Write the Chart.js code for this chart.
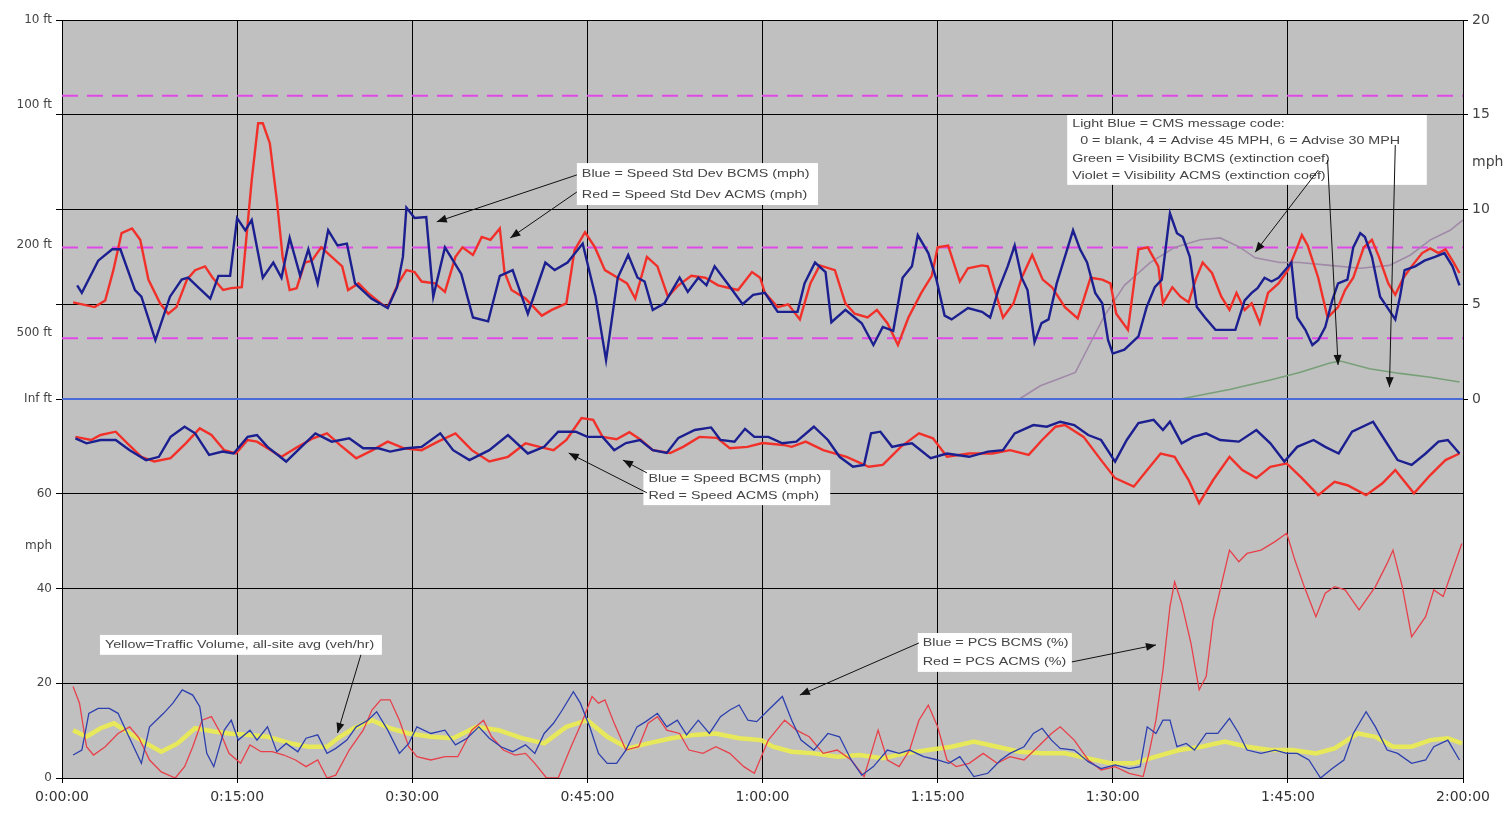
<!DOCTYPE html>
<html>
<head>
<meta charset="utf-8">
<script src="https://cdn.jsdelivr.net/npm/chart.js@4.4.1/dist/chart.umd.min.js"></script>
<style>
  html, body { margin: 0; padding: 0; background: #fff; }
  canvas { display: block; }
</style>
</head>
<body>
<canvas id="trafficChart" width="1507" height="813"></canvas>
<script>
// x values are minutes from the start of the run
const timeTicks = [0, 15, 30, 45, 60, 75, 90, 105, 120];
const timeLabels = ['0:00:00', '0:15:00', '0:30:00', '0:45:00', '1:00:00', '1:15:00', '1:30:00', '1:45:00', '2:00:00'];

// left axis: mph at the bottom, visibility text labels on top
const leftTickVals = [0, 20, 40, 49, 60, 80, 94, 100, 112.5, 120, 140, 142, 160];
const leftTickText = ['0', '20', '40', 'mph', '60', 'Inf ft', '500 ft', '', '200 ft', '', '', '100 ft', '10 ft'];
// right axis: std dev (mph) / extinction coef
const rightTickVals = [0, 5, 10, 12.5, 15, 20];
const rightTickText = ['0', '5', '10', 'mph', '15', '20'];

// visibility limits as extinction coef (100 ft, 200 ft, 500 ft)
const visLimits = [16, 8, 3.2];

// [minute, value] pairs
const sdBcms = [[1.3,6.0],[1.7,5.6],[3.1,7.3],[4.3,7.9],[5.0,7.9],[6.25,5.75],[6.8,5.4],[8.0,3.1],[9.25,5.4],[10.25,6.3],[10.8,6.4],[11.65,5.9],[12.7,5.3],[13.4,6.5],[14.4,6.5],[15.0,9.55],[15.7,8.9],[16.25,9.45],[17.2,6.4],[18.1,7.2],[18.8,6.4],[19.5,8.5],[20.4,6.5],[21.1,7.9],[21.9,6.1],[22.8,8.9],[23.6,8.1],[24.4,8.2],[25.1,6.1],[26.5,5.3],[27.9,4.8],[28.7,5.9],[29.2,7.5],[29.5,10.1],[30.2,9.55],[31.2,9.6],[31.8,5.4],[32.8,8.0],[34.2,6.6],[35.2,4.3],[36.5,4.1],[37.5,6.5],[38.6,6.8],[39.9,4.5],[41.4,7.2],[42.2,6.8],[43.3,7.2],[44.6,8.2],[45.7,5.4],[46.6,2.05],[47.6,6.4],[48.5,7.6],[49.3,6.4],[49.9,6.2],[50.6,4.7],[51.6,5.05],[52.9,6.4],[53.6,5.65],[54.5,6.4],[55.2,6.0],[55.9,7.0],[57.0,6.1],[58.3,5.0],[59.2,5.5],[60.2,5.6],[61.3,4.6],[63.0,4.6],[63.6,6.1],[64.5,7.2],[65.4,6.7],[65.9,4.05],[67.1,4.7],[68.5,4.0],[69.5,2.85],[70.3,3.8],[71.2,3.6],[72.0,6.4],[72.8,7.0],[73.3,8.65],[74.2,7.7],[74.9,6.3],[75.6,4.4],[76.2,4.2],[77.6,4.8],[78.8,4.6],[79.5,4.3],[80.2,5.75],[81.0,7.0],[81.6,8.1],[82.2,6.4],[82.7,5.75],[83.3,3.0],[83.9,4.0],[84.5,4.2],[85.2,6.1],[85.9,7.5],[86.6,8.9],[87.2,7.9],[87.8,7.2],[88.5,5.6],[89.1,5.05],[89.6,3.1],[90.0,2.4],[91.0,2.6],[92.2,3.3],[92.9,4.85],[93.6,5.9],[94.2,6.3],[94.9,9.8],[95.5,8.75],[96.0,8.55],[96.6,7.5],[97.2,4.85],[97.9,4.3],[98.8,3.65],[100.5,3.65],[101.3,5.2],[101.9,5.6],[102.4,5.85],[103.0,6.4],[103.6,6.2],[104.2,6.4],[104.9,6.9],[105.3,7.2],[105.8,4.3],[106.5,3.65],[107.1,2.85],[107.6,3.1],[108.2,3.8],[108.8,5.2],[109.3,6.1],[110.1,6.3],[110.6,8.0],[111.2,8.75],[111.6,8.55],[112.2,7.5],[112.9,5.4],[113.5,4.85],[114.2,4.2],[114.6,5.4],[115.0,6.8],[115.9,7.0],[116.7,7.3],[117.6,7.5],[118.4,7.7],[119.1,7.0],[119.7,6.0]];

const sdAcms = [[0.95,5.1],[2.8,4.85],[3.7,5.2],[4.4,6.8],[5.1,8.75],[6.0,9.0],[6.7,8.4],[7.4,6.3],[8.4,5.05],[9.1,4.5],[9.8,4.85],[10.7,6.3],[11.4,6.8],[12.25,7.0],[12.9,6.4],[13.8,5.75],[14.5,5.85],[15.4,5.9],[15.8,8.55],[16.25,11.55],[16.8,14.55],[17.2,14.55],[17.8,13.5],[18.4,10.5],[18.9,7.5],[19.5,5.75],[20.1,5.85],[20.8,7.2],[21.4,7.3],[22.2,8.0],[23.1,7.5],[24.0,7.0],[24.5,5.75],[25.4,6.1],[26.2,5.6],[27.4,5.0],[27.9,4.85],[28.8,6.1],[29.5,6.8],[30.2,6.7],[30.8,6.2],[31.95,6.1],[32.8,5.65],[33.7,7.5],[34.3,8.0],[35.2,7.6],[35.95,8.55],[36.7,8.4],[37.5,9.0],[37.9,6.7],[38.5,5.75],[39.7,5.3],[41.1,4.4],[41.95,4.7],[43.2,5.05],[43.9,7.85],[44.8,8.8],[45.65,8.0],[46.5,6.8],[47.6,6.4],[48.4,6.1],[49.1,5.3],[50.1,7.5],[51.0,7.0],[51.9,5.4],[52.8,6.0],[53.9,6.5],[55.1,6.4],[56.2,6.0],[57.9,5.75],[59.1,6.7],[59.8,6.4],[60.2,5.6],[61.3,4.85],[62.2,5.0],[63.2,4.2],[64.1,6.1],[64.9,7.05],[66.2,6.8],[67.1,5.05],[67.9,4.5],[69.0,4.3],[69.8,4.7],[70.7,4.0],[71.6,2.85],[72.5,4.3],[73.6,5.6],[74.5,6.5],[75.0,8.0],[75.9,8.1],[76.9,6.2],[77.6,6.9],[78.8,7.05],[79.3,7.0],[79.9,5.75],[80.6,4.3],[81.5,5.05],[82.2,6.4],[83.1,7.6],[84.0,6.3],[84.8,5.9],[85.9,4.85],[87.0,4.25],[88.1,6.4],[89.1,6.3],[89.8,6.1],[90.3,4.5],[91.3,3.65],[92.2,7.9],[93.0,8.0],[93.9,7.0],[94.3,5.05],[95.1,5.9],[95.8,5.4],[96.5,5.1],[97.1,6.3],[97.7,7.2],[98.5,6.65],[99.3,5.4],[100.0,4.7],[100.6,5.6],[101.3,4.7],[101.9,5.05],[102.6,4.0],[103.3,5.6],[104.2,6.1],[105.0,6.8],[105.8,8.0],[106.2,8.65],[106.7,8.1],[107.6,6.4],[108.4,4.3],[109.3,4.85],[109.9,5.75],[110.6,6.4],[111.5,8.0],[112.2,8.4],[112.8,7.5],[113.6,6.1],[114.2,5.5],[114.9,6.4],[115.6,7.0],[116.5,7.7],[117.2,7.95],[117.9,7.7],[118.5,7.9],[119.2,7.2],[119.7,6.65]];

const speedBcms = [[1.15,71.7],[2.1,70.65],[3.3,71.35],[4.6,71.35],[5.8,69.2],[7.2,67.1],[8.3,67.8],[9.3,72.0],[10.5,74.15],[11.4,72.75],[12.6,68.2],[13.75,68.9],[14.7,68.5],[15.9,72.0],[16.7,72.4],[17.6,69.9],[19.2,66.8],[20.5,69.9],[21.7,72.75],[23.1,71.0],[24.6,71.7],[25.8,69.6],[27.1,69.6],[28.1,68.9],[29.5,69.6],[30.8,69.9],[32.4,72.75],[33.5,69.2],[34.9,67.1],[36.6,69.2],[38.2,72.4],[39.9,68.5],[41.3,69.9],[42.5,73.1],[44.0,73.1],[45.0,72.0],[46.3,72.0],[47.3,69.2],[48.3,70.7],[49.5,71.35],[50.6,69.2],[51.8,68.6],[52.8,71.8],[54.2,73.45],[55.6,74.0],[56.4,71.35],[57.6,71.0],[58.5,73.7],[59.3,72.0],[60.5,72.0],[61.7,70.65],[62.9,71.0],[64.4,74.15],[65.6,71.35],[66.6,67.8],[67.75,65.7],[68.7,66.1],[69.3,72.75],[70.1,73.1],[71.1,69.9],[71.85,70.3],[72.8,70.65],[74.4,67.5],[75.8,68.5],[77.7,67.8],[79.3,68.9],[80.6,69.2],[81.6,72.75],[83.2,74.5],[84.35,74.15],[85.5,75.2],[86.7,74.5],[87.9,72.4],[89.0,71.35],[90.2,66.8],[91.2,71.35],[92.2,74.9],[93.5,75.6],[94.3,73.45],[94.9,75.2],[95.9,70.65],[96.9,72.0],[98.0,72.75],[99.2,71.35],[100.8,71.0],[102.3,73.45],[103.5,70.65],[104.7,66.8],[105.8,69.9],[107.2,71.35],[108.2,69.9],[109.35,68.5],[110.5,73.1],[112.3,75.2],[113.3,71.35],[114.4,67.1],[115.6,66.1],[116.8,68.5],[117.9,71.0],[118.7,71.35],[119.7,68.5]];

const speedAcms = [[1.15,72.0],[2.5,71.35],[3.3,72.4],[4.6,73.1],[5.6,70.65],[6.8,67.8],[7.9,66.8],[9.3,67.5],[10.6,70.65],[11.8,73.8],[12.8,72.4],[13.9,69.2],[14.9,68.5],[15.9,71.35],[16.7,71.0],[17.6,69.6],[18.8,67.8],[20.2,69.9],[21.5,71.7],[22.7,72.75],[23.8,70.3],[25.2,67.5],[26.6,69.2],[27.9,71.0],[29.3,69.6],[30.8,69.2],[32.2,71.0],[33.7,72.75],[35.1,69.2],[36.6,66.8],[38.2,67.8],[39.7,70.65],[40.9,69.9],[42.1,69.2],[43.2,71.35],[44.5,76.0],[45.5,75.6],[46.3,72.0],[47.5,71.5],[48.6,73.0],[49.6,71.35],[50.6,69.2],[52.1,68.6],[53.2,69.9],[54.6,72.0],[56.1,71.8],[57.2,69.6],[58.7,69.9],[60.0,70.7],[61.8,70.3],[62.5,69.9],[63.7,71.0],[65.2,69.2],[67.2,67.8],[69.1,65.7],[70.3,66.1],[71.85,69.9],[73.4,72.75],[74.6,71.7],[75.8,67.8],[77.7,68.5],[79.7,68.5],[81.2,69.2],[82.8,68.2],[83.95,71.35],[85.1,74.15],[85.9,74.5],[87.5,72.0],[89.0,67.1],[90.2,63.3],[91.8,61.5],[92.95,65.0],[94.1,68.5],[95.3,67.8],[96.5,62.9],[97.4,58.0],[98.6,62.9],[100.0,67.8],[101.1,65.0],[102.3,63.3],[103.5,65.7],[104.9,66.4],[106.2,63.3],[107.6,59.7],[109.0,62.5],[110.1,61.8],[111.7,59.7],[113.1,62.2],[114.2,65.0],[115.8,60.1],[117.2,63.95],[118.5,67.1],[119.7,68.5]];

const pcsBcms = [[0.95,4.85],[1.7,5.9],[2.3,13.65],[3.1,14.7],[4.05,14.7],[4.8,13.65],[5.6,9.4],[6.8,3.1],[7.5,10.8],[8.7,13.65],[9.5,15.8],[10.3,18.6],[11.2,17.5],[11.8,15.05],[12.4,5.2],[13.0,2.4],[13.9,10.1],[14.5,12.2],[15.1,8.0],[16.1,10.1],[16.7,8.0],[17.6,10.8],[18.4,5.55],[19.2,7.3],[20.2,5.55],[20.9,8.4],[21.9,9.1],[22.7,5.2],[23.45,6.25],[24.4,8.0],[25.2,10.8],[26.2,12.2],[26.95,14.0],[27.9,10.1],[28.9,5.2],[29.7,7.3],[30.4,10.8],[31.6,9.4],[32.8,10.1],[33.7,7.0],[34.7,8.4],[35.7,10.8],[36.6,8.4],[37.6,6.6],[38.6,5.55],[39.7,7.0],[40.5,5.2],[41.3,9.4],[42.1,11.55],[42.85,14.35],[43.8,18.2],[44.4,15.8],[45.2,10.8],[45.95,5.2],[46.7,3.1],[47.5,3.1],[48.3,5.9],[49.25,10.8],[50.0,11.9],[51.0,13.65],[51.8,10.8],[52.7,12.2],[53.5,9.1],[54.5,12.2],[55.45,9.4],[56.4,12.95],[57.2,14.35],[58.0,15.4],[58.75,12.2],[59.5,11.9],[60.5,14.35],[61.7,17.2],[62.5,12.2],[63.3,8.0],[64.4,5.9],[65.6,9.4],[66.6,8.7],[67.6,3.8],[68.5,0.6],[69.5,2.4],[70.7,5.9],[71.7,5.2],[72.6,5.9],[73.8,4.5],[75.0,3.8],[75.95,3.1],[76.9,4.5],[78.1,0.3],[79.3,1.0],[80.4,3.8],[81.2,5.2],[82.4,6.6],[83.2,9.4],[83.95,10.5],[84.75,8.0],[85.5,6.25],[86.7,5.9],[87.9,3.45],[89.0,2.0],[90.2,2.75],[91.4,2.0],[92.35,2.4],[92.95,10.8],[93.7,9.4],[94.3,12.2],[94.9,12.2],[95.5,6.6],[96.3,7.3],[97.0,5.9],[98.0,9.4],[99.0,9.4],[100.0,12.6],[100.8,9.4],[101.5,5.9],[102.7,5.2],[103.9,5.9],[104.9,5.2],[105.8,5.2],[106.8,3.8],[107.8,0],[108.8,2.0],[109.8,3.8],[110.6,9.4],[111.7,14.0],[112.5,10.8],[113.5,5.9],[114.4,5.2],[115.6,3.1],[116.8,3.8],[117.5,6.6],[118.7,8.0],[119.7,3.8]];

const pcsAcms = [[0.95,19.3],[1.5,15.8],[2.1,6.6],[2.7,4.85],[3.7,6.6],[4.8,9.4],[5.8,10.8],[6.6,8.4],[7.5,3.8],[8.5,1.3],[9.7,0],[10.5,2.4],[11.2,6.6],[12.0,12.2],[12.8,12.95],[13.6,9.4],[14.3,5.2],[15.3,3.1],[16.1,7.0],[17.05,5.55],[18.0,5.55],[19.0,4.85],[20.0,3.8],[20.9,2.4],[21.9,3.8],[22.7,0],[23.45,0.6],[24.6,5.9],[25.8,10.1],[26.55,14.35],[27.3,16.5],[28.1,16.5],[28.9,12.2],[29.7,6.6],[30.4,4.5],[31.6,3.8],[32.8,4.5],[33.9,4.5],[35.1,10.1],[36.1,12.2],[36.8,8.7],[37.8,5.9],[38.8,4.85],[39.7,5.2],[40.5,3.1],[41.5,0],[42.5,0],[43.6,6.6],[44.6,12.2],[45.4,17.2],[45.95,15.8],[46.5,16.5],[47.3,11.55],[48.3,5.9],[49.4,6.6],[50.2,11.55],[51.0,12.95],[51.8,10.1],[52.9,9.4],[53.7,5.9],[54.9,5.2],[56.0,6.6],[57.2,5.2],[58.4,2.4],[59.3,1.0],[60.5,8.0],[61.9,12.2],[62.9,10.1],[64.0,8.7],[65.2,5.2],[66.4,5.9],[67.6,3.8],[68.7,0.3],[69.9,10.1],[70.7,3.8],[71.7,2.4],[72.6,5.9],[73.4,12.2],[74.2,15.4],[75.0,10.8],[75.8,3.8],[76.6,2.4],[77.7,3.1],[78.9,5.2],[80.1,3.1],[81.2,4.5],[82.4,3.8],[83.6,6.6],[84.75,9.4],[85.5,10.8],[86.7,8.0],[87.9,3.8],[89.0,1.7],[90.2,2.4],[91.4,1.0],[92.6,0.3],[93.1,5.2],[93.7,12.2],[94.3,22.8],[94.9,36.2],[95.3,41.4],[95.9,36.9],[96.7,28.4],[97.4,18.6],[98.0,21.4],[98.6,33.35],[99.4,41.8],[100.0,48.1],[100.8,45.65],[101.5,47.4],[102.7,48.1],[103.9,49.9],[104.9,51.65],[105.6,46.0],[106.4,40.4],[107.4,34.05],[108.2,39.0],[109.0,40.4],[109.9,39.7],[111.1,35.5],[112.5,40.4],[113.5,45.3],[114.0,48.1],[114.8,40.4],[115.6,29.8],[116.8,34.05],[117.5,39.7],[118.3,38.3],[119.1,43.9],[119.9,49.5]];

const trafficVol = [[0.95,10.1],[2.1,8.7],[3.3,10.5],[4.45,11.55],[5.8,9.4],[7.2,7.3],[8.5,5.55],[9.9,7.3],[11.4,10.5],[13.0,9.8],[14.3,9.4],[16.1,9.1],[17.6,8.7],[19.6,7.3],[21.1,6.6],[22.7,6.6],[23.8,8.7],[25.0,10.5],[26.55,12.2],[28.1,10.5],[29.7,9.4],[31.6,8.7],[33.5,8.4],[35.5,10.8],[37.4,10.1],[39.4,8.4],[41.3,7.3],[43.2,10.8],[45.0,12.2],[46.7,8.7],[48.5,6.25],[50.2,7.3],[52.2,8.4],[54.1,9.1],[56.0,9.4],[58.0,8.4],[59.9,8.0],[60.9,6.6],[62.5,5.55],[64.4,5.2],[66.4,4.5],[68.3,4.85],[70.3,4.15],[72.2,5.2],[74.2,5.9],[76.2,6.6],[78.1,7.7],[80.1,6.6],[82.0,5.55],[83.95,5.2],[85.9,5.2],[87.9,4.15],[89.8,3.1],[91.8,3.1],[93.7,4.5],[95.7,5.9],[97.6,6.6],[99.6,7.7],[101.5,6.6],[103.5,5.9],[105.4,5.9],[107.4,5.2],[109.0,6.25],[111.0,9.4],[112.5,8.7],[114.0,6.6],[115.6,6.6],[117.2,8.0],[118.7,8.4],[119.9,7.3]];

const cmsCode = [[0,0],[30,0],[60,0],[90,0],[120,0]];

const visAcms = [[82,0],[83.8,0.7],[85.5,1.1],[86.8,1.4],[88,2.85],[89.3,4.4],[91,6.0],[93.2,7.2],[95.3,8.0],[97.5,8.4],[99.2,8.5],[100.9,8.0],[102.2,7.45],[104.3,7.2],[106,7.2],[108.6,7.05],[111.2,6.9],[113.7,7.05],[115.5,7.6],[117.2,8.4],[118.9,8.9],[120,9.45]];

const visBcms = [[95.8,0],[100,0.5],[103.5,1.0],[106,1.4],[108.6,1.9],[109.5,2.0],[112,1.6],[114.6,1.35],[117.2,1.15],[119.7,0.9]];

const toPts = arr => arr.map(([x, y]) => ({ x, y }));

// annotation boxes in data units (minutes, left-axis value)
const noteBoxes = [
  { x0: 44.1, x1: 64.75, y0: 129.8, y1: 120.95, lines: ['Blue = Speed Std Dev BCMS (mph)', 'Red = Speed Std Dev ACMS (mph)'] },
  { x0: 86.1, x1: 116.9, y0: 139.95, y1: 125.2, lines: ['Light Blue = CMS message code:', '  0 = blank, 4 = Advise 45 MPH, 6 = Advise 30 MPH', 'Green = Visibility BCMS (extinction coef)', 'Violet = Visibility ACMS (extinction coef)'] },
  { x0: 49.8, x1: 65.8, y0: 65.0, y1: 57.6, lines: ['Blue = Speed BCMS (mph)', 'Red = Speed ACMS (mph)'] },
  { x0: 3.25, x1: 27.4, y0: 30.2, y1: 26.0, lines: ['Yellow=Traffic Volume, all-site avg (veh/hr)'] },
  { x0: 73.3, x1: 86.5, y0: 30.6, y1: 22.4, lines: ['Blue = PCS BCMS (%)', 'Red = PCS ACMS (%)'] }
];
const noteArrows = [
  [44.1, 127.3, 32.1, 117.4], [44.1, 123.7, 38.4, 114.0],
  [107.6, 128.3, 102.2, 111.0], [108.4, 130.4, 109.3, 87.2], [114.2, 133.6, 113.7, 82.5],
  [50.1, 64.4, 48.05, 67.1], [50.1, 60.2, 43.4, 68.6],
  [25.6, 26.0, 23.6, 9.5],
  [73.4, 28.5, 63.2, 17.5], [86.5, 24.5, 93.7, 28.1]
];

const plotBg = {
  id: 'plotBg',
  beforeDraw(chart) {
    const { ctx, chartArea: a } = chart;
    ctx.save();
    ctx.fillStyle = '#c0c0c0';
    ctx.fillRect(a.left, a.top, a.width, a.height);
    ctx.restore();
  }
};

const notes = {
  id: 'notes',
  afterDatasetsDraw(chart) {
    const { ctx } = chart;
    const sx = chart.scales.x, sy = chart.scales.y;
    ctx.save();
    noteBoxes.forEach(b => {
      const l = sx.getPixelForValue(b.x0), r = sx.getPixelForValue(b.x1);
      const t = sy.getPixelForValue(b.y0), btm = sy.getPixelForValue(b.y1);
      ctx.fillStyle = '#fff';
      ctx.fillRect(l, t, r - l, btm - t);
      ctx.fillStyle = '#444';
      ctx.font = '11px "Liberation Sans", Arial, sans-serif';
      ctx.textBaseline = 'middle';
      const lh = (btm - t) / b.lines.length;
      b.lines.forEach((line, i) => {
        ctx.save();
        ctx.translate(l + 5, t + lh * (i + 0.5));
        ctx.scale(1.3, 1);
        ctx.fillText(line, 0, 0);
        ctx.restore();
      });
    });
    ctx.strokeStyle = '#111';
    ctx.fillStyle = '#111';
    ctx.lineWidth = 1;
    noteArrows.forEach(([x0, y0, x1, y1]) => {
      const ax = sx.getPixelForValue(x0), ay = sy.getPixelForValue(y0);
      const bx = sx.getPixelForValue(x1), by = sy.getPixelForValue(y1);
      ctx.beginPath();
      ctx.moveTo(ax, ay);
      ctx.lineTo(bx, by);
      ctx.stroke();
      const ang = Math.atan2(by - ay, bx - ax);
      ctx.beginPath();
      ctx.moveTo(bx, by);
      ctx.lineTo(bx - 10 * Math.cos(ang) + 4 * Math.sin(ang), by - 10 * Math.sin(ang) - 4 * Math.cos(ang));
      ctx.lineTo(bx - 10 * Math.cos(ang) - 4 * Math.sin(ang), by - 10 * Math.sin(ang) + 4 * Math.cos(ang));
      ctx.closePath();
      ctx.fill();
    });
    ctx.restore();
  }
};

const limitSets = visLimits.map(v => ({
  data: [{ x: 0, y: v }, { x: 120, y: v }],
  yAxisID: 'yR',
  borderColor: '#e048e8',
  borderWidth: 2,
  borderDash: [16, 9]
}));

new Chart(document.getElementById('trafficChart'), {
  type: 'line',
  data: {
    datasets: [
      { label: 'Speed Std Dev BCMS', data: toPts(sdBcms), yAxisID: 'yR', borderColor: '#1b1f8f', borderWidth: 2.4 },
      { label: 'Speed Std Dev ACMS', data: toPts(sdAcms), yAxisID: 'yR', borderColor: '#f2302a', borderWidth: 2.4 },
      { label: 'Speed BCMS', data: toPts(speedBcms), yAxisID: 'y', borderColor: '#1b1f8f', borderWidth: 2.4 },
      { label: 'Speed ACMS', data: toPts(speedAcms), yAxisID: 'y', borderColor: '#f2302a', borderWidth: 2.4 },
      { label: 'PCS BCMS', data: toPts(pcsBcms), yAxisID: 'y', borderColor: '#2c3fae', borderWidth: 1.3 },
      { label: 'PCS ACMS', data: toPts(pcsAcms), yAxisID: 'y', borderColor: '#e8404a', borderWidth: 1.3 },
      { label: 'Traffic Volume', data: toPts(trafficVol), yAxisID: 'y', borderColor: 'rgba(236,236,80,0.9)', borderWidth: 4.5 },
      { label: 'CMS code', data: toPts(cmsCode), yAxisID: 'yR', borderColor: '#4a6ad8', borderWidth: 2 },
      { label: 'Visibility ACMS', data: toPts(visAcms), yAxisID: 'yR', borderColor: '#a08aa8', borderWidth: 1.6 },
      { label: 'Visibility BCMS', data: toPts(visBcms), yAxisID: 'yR', borderColor: '#78a078', borderWidth: 1.6 },
      ...limitSets
    ]
  },
  options: {
    responsive: false,
    animation: false,
    devicePixelRatio: 1,
    layout: { padding: { top: 20, left: 0, right: 0, bottom: 0 } },
    elements: { point: { radius: 0 }, line: { tension: 0 } },
    plugins: { legend: { display: false }, tooltip: { enabled: false } },
    scales: {
      x: {
        type: 'linear', min: 0, max: 120,
        afterBuildTicks: s => { s.ticks = timeTicks.map(v => ({ value: v })); },
        afterFit: s => { s.height = 35; },
        ticks: { callback: (v, i) => timeLabels[i], autoSkip: false, maxRotation: 0, color: '#333', padding: 6,
                 font: { family: 'DejaVu Sans', size: 14 } },
        grid: { color: '#000', lineWidth: 1, tickLength: 5 },
        border: { color: '#000' }
      },
      y: {
        position: 'left', min: 0, max: 160,
        afterBuildTicks: s => { s.ticks = leftTickVals.map(v => ({ value: v })); },
        afterFit: s => { s.width = 62; },
        ticks: { callback: (v, i) => leftTickText[i], autoSkip: false, color: '#444', padding: 4,
                 font: { family: 'DejaVu Sans', size: 12 } },
        grid: { color: c => (c.tick && c.tick.value % 20 === 0) ? '#000' : 'rgba(0,0,0,0)', lineWidth: 1, tickLength: 6 },
        border: { color: '#000' }
      },
      yR: {
        position: 'right', min: -20, max: 20,
        afterBuildTicks: s => { s.ticks = rightTickVals.map(v => ({ value: v })); },
        afterFit: s => { s.width = 44; },
        ticks: { callback: (v, i) => rightTickText[i], autoSkip: false, color: '#444', padding: 4,
                 font: { family: 'DejaVu Sans', size: 14 } },
        grid: { drawOnChartArea: false, tickLength: 5,
                color: c => (c.tick && c.tick.value === 12.5) ? 'rgba(0,0,0,0)' : '#000' },
        border: { color: '#000' }
      }
    }
  },
  plugins: [plotBg, notes]
});
</script>
</body>
</html>
